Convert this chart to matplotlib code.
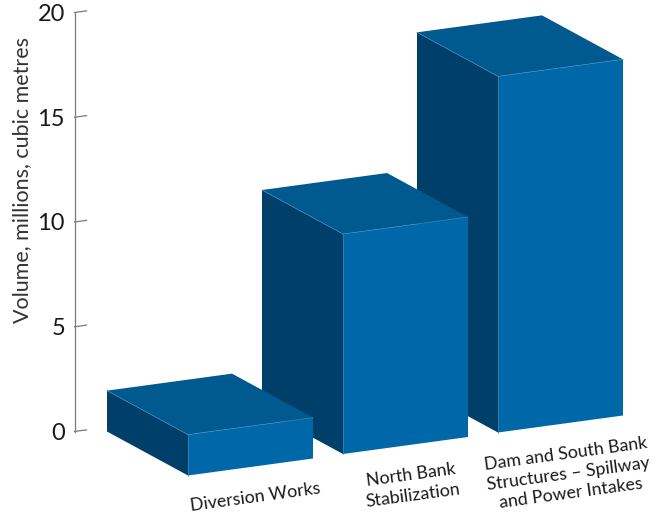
"""
Excavation volumes by work area - oblique 3D-style bar chart.
"""

import numpy as np
import matplotlib
matplotlib.use("Agg")
import matplotlib.pyplot as plt
from matplotlib.patches import Polygon

plt.rcParams['font.family'] = ['Lato', 'DejaVu Sans']

# -----------------------------------------------------------------------
# Data
# -----------------------------------------------------------------------

categories = [
    "Diversion Works",
    "North Bank\nStabilization",
    "Dam and South Bank\nStructures \u2013 Spillway\nand Power Intakes",
]
volumes = [1.95, 10.5, 17.0]          # millions of cubic metres
y_ticks = [0, 5, 10, 15, 20]
y_label = "Volume, millions, cubic metres"

# -----------------------------------------------------------------------
# Geometry / style (x in pixels, y in data units)
# -----------------------------------------------------------------------

W, H = 656, 519
PX = 20.95                 # pixels per unit on the value axis
BASE_PX = 431.5            # pixel row of value 0


def up(px):
    """Pixel offset upwards -> value offset."""
    return px / PX


ORIGIN = np.array([107.0, 0.0])          # back-left-bottom of first bar
DEPTH = np.array([81.0, up(-44)])        # back -> front
WIDTH = np.array([125.0, up(17)])        # left -> right
STEP = np.array([155.0, up(21.5)])       # bar to bar

FRONT = "#0068a8"
TOP = "#00598f"
SIDE = "#003f6a"
SEAM = "#3f86bb"
AXIS = "#7a7a7a"
TEXT = "#1a1a1a"

ANGLE = np.degrees(np.arctan2(17, 125))


def draw_box(ax, i, h):
    rise = np.array([0.0, h])
    blb = ORIGIN + i * STEP
    flb = blb + DEPTH
    frb = flb + WIDTH
    blt, flt, frt = blb + rise, flb + rise, frb + rise
    brt = blt + WIDTH

    ax.add_patch(Polygon([blb, flb, flt, blt], closed=True, fc=SIDE, ec='none'))
    ax.add_patch(Polygon([blt, brt, frt, flt], closed=True, fc=TOP, ec='none'))
    ax.add_patch(Polygon([flb, frb, frt, flt], closed=True, fc=FRONT, ec='none'))
    for a, b in [(flt, frt), (flt, blt), (flt, flb)]:
        ax.plot([a[0], b[0]], [a[1], b[1]], color=SEAM, lw=0.5)

    # category label, rotated along the width direction
    anchor = flb + 0.5 * WIDTH + np.array([4.0, up(-22)])
    ax.text(anchor[0], anchor[1], categories[i], rotation=ANGLE,
            rotation_mode='anchor', ha='center', va='top', fontsize=12.8,
            color=TEXT, linespacing=1.3, multialignment='center')


def main():
    fig = plt.figure(figsize=(W / 100, H / 100), dpi=100)
    ax = fig.add_axes([0, 0, 1, 1])
    ax.set_xlim(0, W)
    ax.set_ylim(up(BASE_PX - H), up(BASE_PX))
    ax.axis('off')

    # value axis
    ax_x = 74.5
    ax.plot([ax_x, ax_x], [y_ticks[0], y_ticks[-1]], color=AXIS, lw=0.9)
    tick_len = 12.0
    for t in y_ticks:
        ax.plot([ax_x, ax_x + tick_len], [t, t + up(17) * tick_len / 125],
                color=AXIS, lw=0.9)
        ax.text(65, t - up(2), str(t), ha='right', va='center',
                fontsize=17, color=TEXT)
    ax.text(22, up(BASE_PX - 180), y_label, rotation=90, ha='center',
            va='center', fontsize=15.5, color="#333333")

    # bars, drawn right to left so the nearer ones sit on top
    for i in reversed(range(len(volumes))):
        draw_box(ax, i, volumes[i])

    fig.savefig("out.png", dpi=100)
    plt.close(fig)


if __name__ == "__main__":
    main()
